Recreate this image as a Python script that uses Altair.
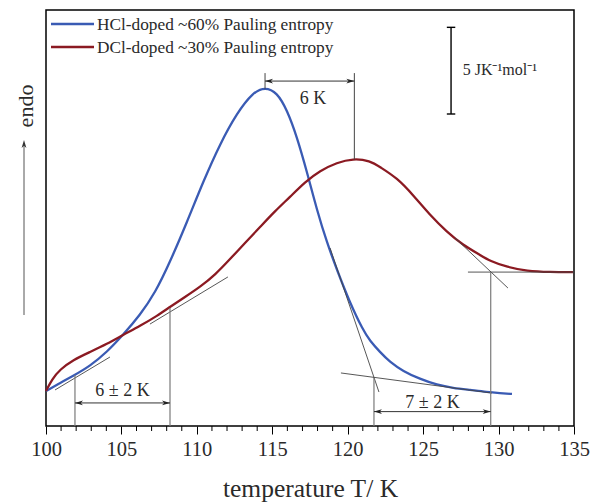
import altair as alt
import pandas as pd

SERIF = "Liberation Serif"
TXT = "#2a2a2a"

# ---------------- data ----------------
SERIES = ["HCl-doped ~60% Pauling entropy", "DCl-doped ~30% Pauling entropy"]
COLORS = ["#3a5bb4", "#8b1a22"]

T_hcl = [100.00, 100.93, 101.79, 102.92, 104.04, 105.10, 106.23, 107.23, 108.22, 109.35,
         110.41, 111.53, 112.66, 113.72, 114.52, 115.31, 115.98, 116.64, 117.30, 117.96,
         118.63, 119.29, 120.15, 121.01, 121.48, 122.14, 122.80, 123.66, 124.79, 125.92,
         126.98, 128.11, 129.23, 130.09, 130.89]
cp_hcl = [2.02, 2.48, 2.89, 3.46, 4.27, 5.25, 6.40, 7.67, 9.46, 11.77,
          14.08, 16.27, 18.06, 19.25, 19.55, 19.25, 18.23, 16.67, 14.65, 12.46,
          10.56, 9.00, 7.10, 5.54, 4.90, 4.27, 3.69, 3.17, 2.71, 2.37,
          2.19, 2.08, 1.96, 1.90, 1.85]

T_dcl = [100.00, 100.40, 100.93, 101.79, 102.92, 104.04, 105.10, 106.23, 107.36, 108.22,
         109.21, 110.21, 111.20, 112.20, 113.19, 114.19, 115.18, 116.17, 117.17, 118.16,
         119.29, 120.35, 121.48, 122.14, 123.27, 124.33, 125.45, 126.58, 127.64, 128.77,
         129.43, 130.56, 131.88, 133.41, 134.93]
cp_dcl = [2.02, 2.70, 3.26, 3.81, 4.27, 4.73, 5.25, 5.77, 6.35, 6.87,
          7.44, 8.02, 8.71, 9.63, 10.56, 11.48, 12.40, 13.21, 14.08, 14.73,
          15.20, 15.43, 15.31, 14.94, 14.31, 13.33, 12.17, 11.19, 10.44, 9.87,
          9.52, 9.17, 8.94, 8.88, 8.88]

# tangent construction lines (T1, y1) -> (T2, y2)
tan_T1 = [100.60, 106.89, 118.83, 119.55, 127.11, 127.97]
tan_y1 = [2.08, 5.88, 10.27, 3.06, 10.85, 8.88]
tan_T2 = [104.24, 112.06, 122.07, 129.56, 130.62, 134.93]
tan_y2 = [3.98, 8.60, 1.96, 1.90, 7.96, 8.88]

# vertical marker lines
vl_T = [101.92, 108.22, 121.74, 129.48]
vl_y2 = [2.94, 6.81, 2.77, 8.88]
peak_T = [114.52, 120.44]
peak_y = [19.45, 15.38]
peak_top = 20.36

# dimension arrows
arr_T1 = [114.52, 101.92, 121.74]
arr_T2 = [120.44, 108.22, 129.48]
arr_y = [19.90, 1.33, 0.83]
lab_T = [117.70, 105.07, 125.62]
lab_y = [18.58, 1.73, 1.04]
lab_text = ["6 K", "6 \u00b1 2 K", "7 \u00b1 2 K"]

# scale bar: 5 J K^-1 mol^-1
bar_T = 126.85
bar_y1, bar_y2 = 18.0, 23.0
bar_label = "5 JK\u207b\u00b9mol\u207b\u00b9"
bar_label_T, bar_label_y = 127.62, 20.25

major_ticks = list(range(100, 136, 5))
minor_ticks = [t for t in range(100, 136) if t % 5 != 0]

# ---------------- chart ----------------
xs = alt.Scale(domain=[100, 135], nice=False, zero=False)
ys = alt.Scale(domain=[0, 24], nice=False, zero=False)

curves = pd.concat([
    pd.DataFrame({"T": T_hcl, "cp": cp_hcl, "series": SERIES[0], "i": range(len(T_hcl))}),
    pd.DataFrame({"T": T_dcl, "cp": cp_dcl, "series": SERIES[1], "i": range(len(T_dcl))}),
])

main_axis = alt.Axis(values=major_ticks, tickSize=8, tickColor="black", tickWidth=1,
                     labelFont=SERIF, labelFontSize=20.5, labelColor=TXT,
                     labelBaseline="alphabetic", labelPadding=21, labelFlush=False,
                     labelOverlap=False,
                     title="temperature T/ K", titleFont=SERIF, titleFontSize=25.5,
                     titleFontWeight="normal", titleColor=TXT, titleBaseline="alphabetic",
                     titleY=70, titleX=264, domain=False, grid=False, orient="bottom")

lines = alt.Chart(curves).mark_line(strokeWidth=2.3, interpolate="basis").encode(
    x=alt.X("T:Q", scale=xs, axis=main_axis),
    y=alt.Y("cp:Q", scale=ys, axis=None),
    color=alt.Color("series:N", scale=alt.Scale(domain=SERIES, range=COLORS), legend=None),
    detail="series:N",
    order="i:Q",
)

# minor ticks (1 K steps) drawn just below the frame
minor = alt.Chart(pd.DataFrame({"T": minor_ticks})).mark_rule(color="black", strokeWidth=1).encode(
    x=alt.X("T:Q", scale=xs), y=alt.value(416), y2=alt.value(421))

tangents = alt.Chart(pd.DataFrame({"T1": tan_T1, "y1": tan_y1, "T2": tan_T2, "y2": tan_y2})).mark_rule(
    color="#444444", strokeWidth=0.9).encode(
    x=alt.X("T1:Q", scale=xs), y=alt.Y("y1:Q", scale=ys), x2="T2:Q", y2="y2:Q")

verts = alt.Chart(pd.DataFrame({"T": vl_T, "y0": [0] * len(vl_T), "y2": vl_y2})).mark_rule(
    color="#7a7a7a", strokeWidth=1.2).encode(
    x=alt.X("T:Q", scale=xs), y=alt.Y("y0:Q", scale=ys), y2="y2:Q")

peaks = alt.Chart(pd.DataFrame({"T": peak_T, "y0": peak_y, "y2": [peak_top] * 2})).mark_rule(
    color="#444444", strokeWidth=1).encode(
    x=alt.X("T:Q", scale=xs), y=alt.Y("y0:Q", scale=ys), y2="y2:Q")

arr_df = pd.DataFrame({"T1": arr_T1, "T2": arr_T2, "y": arr_y})
arrows = alt.Chart(arr_df).mark_rule(color="#333333", strokeWidth=1).encode(
    x=alt.X("T1:Q", scale=xs), x2="T2:Q", y=alt.Y("y:Q", scale=ys))
head_l = alt.Chart(arr_df).mark_point(shape="M0,0 L2,-0.6 L1.45,0 L2,0.6 Z", filled=True,
                                      size=64, color="#222222", opacity=1).encode(
    x=alt.X("T1:Q", scale=xs), y=alt.Y("y:Q", scale=ys))
head_r = alt.Chart(arr_df).mark_point(shape="M0,0 L-2,-0.6 L-1.45,0 L-2,0.6 Z", filled=True,
                                      size=64, color="#222222", opacity=1).encode(
    x=alt.X("T2:Q", scale=xs), y=alt.Y("y:Q", scale=ys))

labels = alt.Chart(pd.DataFrame({"T": lab_T, "y": lab_y, "t": lab_text})).mark_text(
    font=SERIF, fontSize=18, color=TXT, align="center", baseline="alphabetic").encode(
    x=alt.X("T:Q", scale=xs), y=alt.Y("y:Q", scale=ys), text="t:N")

bar = alt.Chart(pd.DataFrame({"T": [bar_T], "y1": [bar_y1], "y2": [bar_y2]})).mark_rule(
    color="black", strokeWidth=1.4).encode(
    x=alt.X("T:Q", scale=xs), y=alt.Y("y1:Q", scale=ys), y2="y2:Q")
caps = alt.Chart(pd.DataFrame({"T1": [bar_T - 0.28] * 2, "T2": [bar_T + 0.28] * 2,
                               "y": [bar_y1, bar_y2]})).mark_rule(
    color="black", strokeWidth=1.4).encode(
    x=alt.X("T1:Q", scale=xs), x2="T2:Q", y=alt.Y("y:Q", scale=ys))
bar_text = alt.Chart(pd.DataFrame({"T": [bar_label_T], "y": [bar_label_y], "t": [bar_label]})).mark_text(
    font=SERIF, fontSize=16, color=TXT, align="left", baseline="alphabetic").encode(
    x=alt.X("T:Q", scale=xs), y=alt.Y("y:Q", scale=ys), text="t:N")

one = pd.DataFrame({"a": [0]})
legend_layers = []
for i, (name, col) in enumerate(zip(SERIES, COLORS)):
    legend_layers.append(alt.Chart(one).mark_rule(color=col, strokeWidth=2.3).encode(
        x=alt.value(5), x2=alt.value(48), y=alt.value(14 + 23 * i)))
    legend_layers.append(alt.Chart(one).mark_text(
        font=SERIF, fontSize=17.3, color=TXT, align="left", baseline="alphabetic", text=name).encode(
        x=alt.value(51), y=alt.value(19.5 + 23 * i)))

endo_text = alt.Chart(one).mark_text(font=SERIF, fontSize=22, color=TXT, angle=270,
                                     align="center", baseline="alphabetic", text="endo").encode(
    x=alt.value(-13), y=alt.value(96))
endo_line = alt.Chart(one).mark_rule(color="#555555", strokeWidth=1).encode(
    x=alt.value(-22), y=alt.value(134), y2=alt.value(305))
endo_head = alt.Chart(one).mark_point(shape="M0,0 L-0.6,2 L0,1.45 L0.6,2 Z", filled=True,
                                      size=64, color="#333333", opacity=1).encode(
    x=alt.value(-22), y=alt.value(130))

chart = alt.layer(
    lines, minor, tangents, verts, peaks, arrows, head_l, head_r, labels,
    bar, caps, bar_text, *legend_layers, endo_line, endo_head, endo_text,
).properties(
    width=528, height=416,
    autosize=alt.AutoSizeParams(type="none"),
    padding={"left": 46, "top": 10, "right": 16, "bottom": 76},
    background="white",
).configure_view(stroke="black", strokeWidth=1.5)

chart.save("out.html", embed_options={"renderer": "svg", "actions": False})
